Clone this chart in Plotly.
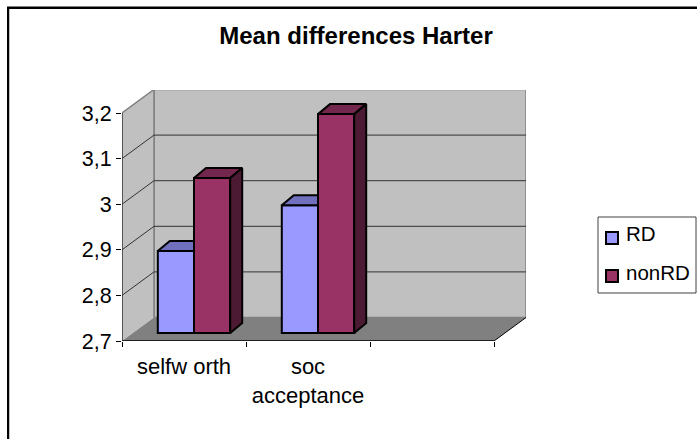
import plotly.graph_objects as go

categories = ["selfw orth", "soc<br>acceptance", ""]
series_names = ["RD", "nonRD"]
rd_values = [2.88, 2.98]
nonrd_values = [3.04, 3.18]
y_ticks = [2.7, 2.8, 2.9, 3.0, 3.1, 3.2]
y_labels = ["2,7", "2,8", "2,9", "3", "3,1", "3,2"]

# pseudo 3d, everything in data units: x is category units, y is value units
W, H = 697, 439
LEFT, RIGHT, TOP, BOTTOM = 122, 526, 90, 341
X_PX = 124.0                # pixels per category
Y_PX = 456.0                # pixels per 1.0 of value
Y_MIN, Y_MAX = 2.7, 3.2
N_CAT = 3
DEPTH_X = 32 / X_PX         # how far the back wall is shifted
DEPTH_Y = 23.5 / Y_PX
BAR_W = 36.2 / X_PX
BAR_DX = 12 / X_PX          # side face of a bar
BAR_DY = 10 / Y_PX
BAR_SHIFT_X = 10 / X_PX     # bars stand a bit behind the front edge
BAR_SHIFT_Y = 8 / Y_PX

RD_COLOR = "#9999FF"
NONRD_COLOR = "#993366"
RD_TOP = "#7070BE"
NONRD_TOP = "#73274D"
NONRD_SIDE = "#4D1A33"
FONT = "Liberation Sans, Arial, sans-serif"


def px(v):
    return (v - LEFT) / (RIGHT - LEFT)


def py(v):
    return (BOTTOM - v) / (BOTTOM - TOP)


def poly_path(xs, ys):
    return "M" + " L".join(f"{x},{y}" for x, y in zip(xs, ys)) + " Z"


def wall(xs, ys, fill, line=None, width=0):
    # bars are drawn above shapes, so the walls have to be shapes and not traces
    return dict(type="path", path=poly_path(xs, ys), xref="x", yref="y", layer="below", fillcolor=fill,
                line=dict(color=line or fill, width=width))


def seg(xs, ys, color, width):
    return dict(type="path", path="M" + " L".join(f"{x},{y}" for x, y in zip(xs, ys)), xref="x", yref="y",
                layer="below", line=dict(color=color, width=width))


def page_line(x0, y0, x1, y1, color, width):
    return dict(type="line", xref="paper", yref="paper", x0=px(x0), x1=px(x1), y0=py(y0), y1=py(y1),
                line=dict(color=color, width=width))


def page_rect(x0, y0, x1, y1, fill, line, width):
    return dict(type="rect", xref="paper", yref="paper", x0=px(x0), x1=px(x1), y0=py(y0), y1=py(y1),
                fillcolor=fill, line=dict(color=line, width=width))


def poly(fig, xs, ys, fill):
    fig.add_trace(go.Scatter(x=xs + xs[:1], y=ys + ys[:1], mode="lines", fill="toself", fillcolor=fill,
                             line=dict(color="#000000", width=2), hoverinfo="skip", showlegend=False))


shapes = [
    wall([DEPTH_X, N_CAT + DEPTH_X, N_CAT + DEPTH_X, DEPTH_X],
         [Y_MIN + DEPTH_Y, Y_MIN + DEPTH_Y, Y_MAX + DEPTH_Y, Y_MAX + DEPTH_Y], "#C0C0C0", "#808080", 1.5),
    wall([0, DEPTH_X, DEPTH_X, 0], [Y_MIN, Y_MIN + DEPTH_Y, Y_MAX + DEPTH_Y, Y_MAX], "#C0C0C0"),
    wall([0, N_CAT, N_CAT + DEPTH_X, DEPTH_X], [Y_MIN, Y_MIN, Y_MIN + DEPTH_Y, Y_MIN + DEPTH_Y], "#808080"),
    seg([0, DEPTH_X, DEPTH_X], [Y_MAX, Y_MAX + DEPTH_Y, Y_MIN + DEPTH_Y], "#808080", 1.5),
]
for t in y_ticks[1:-1]:
    shapes.append(seg([0, DEPTH_X, N_CAT + DEPTH_X], [t, t + DEPTH_Y, t + DEPTH_Y], "#333333", 1))
shapes += [
    seg([0, 0], [Y_MIN, Y_MAX], "#333333", 1.5),
    seg([0, N_CAT], [Y_MIN, Y_MIN], "#000000", 1.5),
    seg([N_CAT, N_CAT + DEPTH_X], [Y_MIN, Y_MIN + DEPTH_Y], "#000000", 1),
]
# chart frame, only its top and left sides fall inside the picture
shapes += [
    page_line(7, 6.5, W, 6.5, "#808080", 1),
    page_line(9.5, 9, 9.5, H, "#C0C0C0", 1),
    page_line(7, 8, W, 8, "#000000", 2),
    page_line(8, 7, 8, H, "#000000", 2),
]
# legend box and swatches, the native legend can't be made this narrow
shapes += [
    page_rect(598, 217, 696, 293, "#FFFFFF", "#404040", 1),
    page_rect(606, 232, 618, 244, RD_COLOR, "#000000", 2),
    page_rect(606, 270, 618, 282, NONRD_COLOR, "#000000", 2),
]
legend_text = [
    dict(text=name, x=px(627), y=py(y), xref="paper", yref="paper", xanchor="left", yanchor="middle",
         showarrow=False, font=dict(size=20.5), xshift=-3)
    for name, y in zip(series_names, [234, 272])
]

fig = go.Figure()

base = Y_MIN + BAR_SHIFT_Y
bar_x = [i + 0.5 + BAR_SHIFT_X for i in range(len(rd_values))]
fig.add_trace(go.Bar(name=series_names[0], x=[c - BAR_W / 2 for c in bar_x], y=[v - Y_MIN for v in rd_values], base=base,
                     width=BAR_W, marker=dict(color=RD_COLOR, line=dict(color="#000000", width=2))))
fig.add_trace(go.Bar(name=series_names[1], x=[c + BAR_W / 2 for c in bar_x], y=[v - Y_MIN for v in nonrd_values], base=base,
                     width=BAR_W, marker=dict(color=NONRD_COLOR, line=dict(color="#000000", width=2))))

# top and side faces go over the bars, RD's are cut off where nonRD hides them
for c, rd, nonrd in zip(bar_x, rd_values, nonrd_values):
    rd_y = rd + BAR_SHIFT_Y
    nonrd_y = nonrd + BAR_SHIFT_Y
    poly(fig, [c - BAR_W, c, c, c - BAR_W + BAR_DX], [rd_y, rd_y, rd_y + BAR_DY, rd_y + BAR_DY], RD_TOP)
    poly(fig, [c, c + BAR_W, c + BAR_W + BAR_DX, c + BAR_DX], [nonrd_y, nonrd_y, nonrd_y + BAR_DY, nonrd_y + BAR_DY], NONRD_TOP)
    poly(fig, [c + BAR_W, c + BAR_W + BAR_DX, c + BAR_W + BAR_DX, c + BAR_W],
         [base, base + BAR_DY, nonrd_y + BAR_DY, nonrd_y], NONRD_SIDE)

fig.update_layout(
    width=W, height=H,
    autosize=False,
    barmode="overlay",
    showlegend=False,
    paper_bgcolor="#FFFFFF",
    plot_bgcolor="#FFFFFF",
    font=dict(family=FONT, color="#000000"),
    margin=dict(l=LEFT, r=W - RIGHT, t=TOP, b=H - BOTTOM, pad=0),
    title=dict(text="<b>Mean differences Harter</b>", x=356 / W, xanchor="center", xref="container", y=1 - 36 / H,
               yanchor="middle", font=dict(size=24, family=FONT)),
    shapes=shapes,
    annotations=legend_text,
)
fig.update_xaxes(range=[0, (RIGHT - LEFT) / X_PX], showgrid=False, zeroline=False, showline=False,
                 tickmode="array", tickvals=[i + 0.5 for i in range(N_CAT)], ticktext=categories,
                 ticks="", tickfont=dict(size=22), ticklabelstandoff=10,
                 minor=dict(tickmode="array", tickvals=[0, 1, 2, 3], ticks="outside", ticklen=5, tickcolor="#000000", tickwidth=1, showgrid=False))
fig.update_yaxes(range=[Y_MIN, Y_MIN + (BOTTOM - TOP) / Y_PX], showgrid=False, zeroline=False, showline=False,
                 tickmode="array", tickvals=y_ticks, ticktext=y_labels, ticks="outside", ticklen=5,
                 tickcolor="#000000", tickwidth=1, tickfont=dict(size=21.5), ticklabelstandoff=0)

# page body has a default margin that would push the chart 8px off
fig.write_html("out.html", config=dict(displayModeBar=False), post_script="document.body.style.margin='0';")
